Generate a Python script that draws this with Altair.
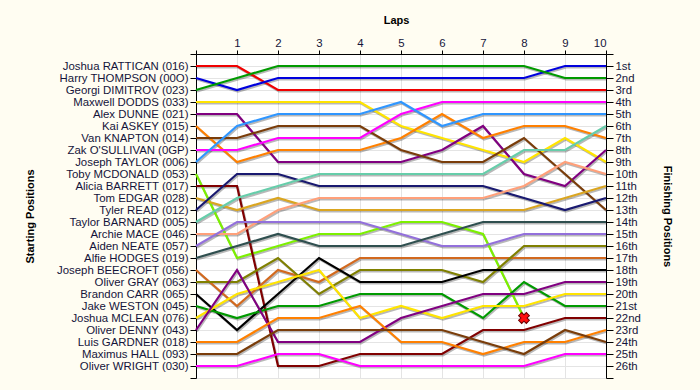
import json
import altair as alt
import pandas as pd

laps = list(range(0, 11))

drivers = [
    "Joshua RATTICAN (016)", "Harry THOMPSON (00O)", "Georgi DIMITROV (023)",
    "Maxwell DODDS (033)", "Alex DUNNE (021)", "Kai ASKEY (015)",
    "Van KNAPTON (014)", "Zak O'SULLIVAN (0GP)", "Joseph TAYLOR (006)",
    "Toby MCDONALD (053)", "Alicia BARRETT (017)", "Tom EDGAR (028)",
    "Tyler READ (012)", "Taylor BARNARD (005)", "Archie MACE (046)",
    "Aiden NEATE (057)", "Alfie HODGES (019)", "Joseph BEECROFT (056)",
    "Oliver GRAY (063)", "Brandon CARR (065)", "Jake WESTON (045)",
    "Joshua MCLEAN (076)", "Oliver DENNY (043)", "Luis GARDNER (018)",
    "Maximus HALL (093)", "Oliver WRIGHT (030)",
]

colors = [
    "#f00000", "#0000dd", "#009a00", "#ffe400", "#800080", "#ff8000",
    "#7a3d0a", "#ff00ff", "#2f96ff", "#7cf000", "#800000", "#daa520",
    "#191970", "#66cdaa", "#ffa07a", "#9370db", "#2f4f4f", "#d2691e",
    "#808000", "#000000", "#009a00", "#ffe400", "#800080", "#ff8000",
    "#7a3d0a", "#ff00ff",
]

# position of each driver at the end of each lap (lap 0 = grid)
positions = [
    [1, 1, 3, 3, 3, 3, 3, 3, 3, 3, 3],
    [2, 3, 2, 2, 2, 2, 2, 2, 2, 1, 1],
    [3, 2, 1, 1, 1, 1, 1, 1, 1, 2, 2],
    [4, 4, 4, 4, 4, 6, 7, 8, 9, 7, 9],
    [5, 5, 9, 9, 9, 9, 8, 6, 10, 11, 8],
    [6, 9, 8, 8, 8, 7, 5, 7, 6, 6, 7],
    [7, 7, 6, 6, 6, 8, 9, 9, 7, 10, 13],
    [8, 8, 7, 7, 7, 5, 4, 4, 4, 4, 4],
    [9, 6, 5, 5, 5, 4, 6, 5, 5, 5, 5],
    [10, 17, 16, 15, 15, 14, 14, 15, 22],
    [11, 11, 26, 26, 25, 25, 25, 23, 23, 22, 22],
    [12, 13, 12, 13, 13, 13, 13, 13, 13, 12, 11],
    [13, 10, 10, 11, 11, 11, 11, 11, 12, 13, 12],
    [14, 12, 11, 10, 10, 10, 10, 10, 8, 8, 6],
    [15, 15, 13, 12, 12, 12, 12, 12, 11, 9, 10],
    [16, 14, 14, 14, 14, 15, 16, 16, 15, 15, 15],
    [17, 16, 15, 16, 16, 16, 15, 14, 14, 14, 14],
    [18, 21, 18, 19, 17, 17, 17, 17, 17, 17, 17],
    [19, 19, 17, 20, 18, 18, 18, 19, 16, 16, 16],
    [20, 23, 20, 17, 19, 19, 19, 18, 18, 18, 18],
    [21, 22, 21, 21, 20, 20, 20, 22, 19, 21, 21],
    [22, 20, 19, 18, 22, 21, 22, 21, 21, 20, 20],
    [23, 18, 24, 24, 24, 22, 21, 20, 20, 19, 19],
    [24, 24, 22, 22, 21, 24, 24, 25, 24, 24, 23],
    [25, 25, 23, 23, 23, 23, 23, 24, 25, 23, 24],
    [26, 26, 25, 25, 26, 26, 26, 26, 26, 25, 25],
]

retired = ["Toby MCDONALD (053)"]

finish_labels = [
    "1st", "2nd", "3rd", "4th", "5th", "6th", "7th", "8th", "9th", "10th",
    "11th", "12th", "13th", "14th", "15th", "16th", "17th", "18th", "19th",
    "20th", "21st", "22nd", "23rd", "24th", "25th", "26th",
]

rows = []
for name, pos in zip(drivers, positions):
    for lap, p in zip(laps, pos):
        rows.append({"driver": name, "lap": lap, "pos": p})
df = pd.DataFrame(rows)

ret_rows = []
for name in retired:
    pos = positions[drivers.index(name)]
    ret_rows.append({"driver": name, "lap": laps[len(pos) - 1], "pos": pos[-1]})
df_ret = pd.DataFrame(ret_rows)

FONT = "Liberation Sans"
TXT = "#14143a"
LFS = 11.4
n_rows = len(drivers) + 1
yvals = list(range(0, n_rows + 1))

left_expr = json.dumps([""] + drivers + [""]) + "[datum.value]"
right_expr = json.dumps([""] + finish_labels + [""]) + "[datum.value]"


def yscale():
    return alt.Scale(domain=[0, n_rows], reverse=True, nice=False, zero=False)


def xscale():
    return alt.Scale(domain=[laps[0], laps[-1]], nice=False, zero=False)


def x_axis():
    return alt.Axis(
        orient="top", values=laps, title="Laps",
        labelExpr="datum.value == 0 ? '' : datum.label",
        tickSize=4, labelPadding=2, labelFontSize=LFS, labelFont=FONT, labelColor=TXT,
        labelAngle=0, grid=True, gridColor="#e4e4e4", domainColor="#000000",
        tickColor="#000000", titleFont=FONT, titleFontSize=11, titleFontWeight="bold",
        titleColor="#000000", titleX=200, titleY=-34, titleBaseline="middle",
        titleAlign="center",
    )


left_axis = alt.Axis(
    orient="left", values=yvals, labelExpr=left_expr, title="Starting Positions",
    tickSize=6, labelPadding=2, labelFontSize=LFS, labelFont=FONT, labelColor=TXT,
    grid=True, gridColor="#e4e4e4", domainColor="#000000", tickColor="#000000",
    titleFont=FONT, titleFontSize=11, titleFontWeight="bold", titleColor="#000000",
    titleAngle=-90, titleX=-166, titleY=162, titleAlign="center", titleBaseline="middle",
    labelBound=False, labelOverlap=False,
)

right_axis = alt.Axis(
    orient="right", values=yvals, labelExpr=right_expr, title="Finishing Positions",
    tickSize=7, labelPadding=2, labelFontSize=LFS, labelFont=FONT, labelColor=TXT,
    grid=False, domainColor="#000000", tickColor="#000000",
    titleFont=FONT, titleFontSize=11, titleFontWeight="bold", titleColor="#000000",
    titleAngle=90, titleX=60, titleY=162, titleAlign="center", titleBaseline="middle",
    labelOverlap=False,
)

shadow = alt.Chart(df).mark_line(
    color="#000000", opacity=0.28, strokeWidth=2.2, xOffset=1, yOffset=1.5
).encode(
    x=alt.X("lap:Q", scale=xscale(), axis=x_axis()),
    y=alt.Y("pos:Q", scale=yscale(), axis=left_axis),
    detail="driver:N",
    order="lap:Q",
)

lines = alt.Chart(df).mark_line(strokeWidth=2.2).encode(
    x=alt.X("lap:Q", scale=xscale(), axis=x_axis()),
    y=alt.Y("pos:Q", scale=yscale(), axis=None),
    color=alt.Color("driver:N", scale=alt.Scale(domain=drivers, range=colors), legend=None),
    order="lap:Q",
)

xmark = alt.Chart(df_ret).mark_point(
    shape="cross", angle=45, size=120, filled=True, fill="#ff1010",
    stroke="#6a0000", strokeWidth=1, opacity=1
).encode(
    x=alt.X("lap:Q", scale=xscale(), axis=x_axis()),
    y=alt.Y("pos:Q", scale=yscale(), axis=right_axis),
)

chart = alt.layer(shadow, lines, xmark).resolve_scale(
    y="independent"
).properties(
    width=410, height=324,
    autosize=alt.AutoSizeParams(type="none"),
    padding={"left": 196, "top": 54, "right": 94, "bottom": 12},
    background="#fffdf2",
).configure_view(fill="#ffffff", strokeWidth=0)

chart.save("out.html", embed_options={"renderer": "svg", "actions": False})
